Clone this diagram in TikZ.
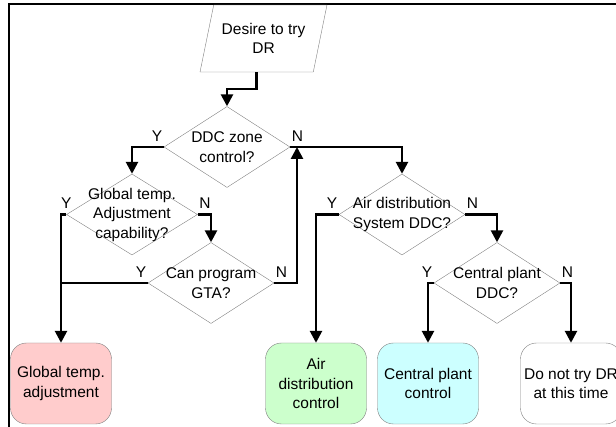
\documentclass[tikz,border=0pt]{standalone}
\usepackage{fontspec}
\setmainfont{Liberation Sans}
\usetikzlibrary{shapes.geometric,arrows.meta}
\definecolor{boxpink}{HTML}{FFCCCC}
\definecolor{boxgreen}{HTML}{CCFFCC}
\definecolor{boxcyan}{HTML}{CCFFFF}
\tikzset{
  startbox/.style={trapezium, trapezium left angle=69.5, trapezium right angle=110.5,
    trapezium stretches=true, draw=gray, minimum width=127pt, minimum height=67pt,
    align=center, inner sep=0pt},
  qbox/.style={diamond, draw=gray, minimum width=126pt, minimum height=81pt, inner sep=0pt},
  qtext/.style={align=center, inner sep=0pt},
  endbox/.style={draw=gray, rounded corners=16pt, minimum width=101pt, minimum height=81pt,
    inner xsep=1pt, align=center},
  wire/.style={line width=2.6pt},
  flow/.style={wire, -{Triangle[width=12pt,length=12pt]}},
  yn/.style={inner xsep=1.5pt, inner ysep=5.5pt}
}
\begin{document}
\begin{tikzpicture}[x=1pt,y=-1pt,font=\fontsize{15.5}{19.5}\selectfont]
	\useasboundingbox (0,0) rectangle (616,427);
	\clip (0,0) rectangle (616,427);
	\draw[line width=2.2pt] (8.6,4.3) rectangle (700,500);
	\node[startbox] (desire) at (263.5,38.5) {Desire to try\\DR};
	\node[qbox,label={[qtext]center:{DDC zone\\control?}}] (ddc) at (227,147) {};
	\node[qbox,minimum width=131pt,label={[qtext]center:{Global temp.\\Adjustment\\capability?}}] (gtacap) at (132,214.5) {};
	\node[qbox,label={[qtext]center:{Can program\\GTA?}}] (canprog) at (211,283) {};
	\node[qbox,label={[qtext]center:{Air distribution\\System DDC?}}] (airddc) at (402,214.5) {};
	\node[qbox,label={[qtext]center:{Central plant\\DDC?}}] (plantddc) at (497,283) {};
	\node[endbox,fill=boxpink] (globaltemp) at (61,383.5) {Global temp.\\adjustment};
	\node[endbox,fill=boxgreen] (airctrl) at (316,383.5) {Air\\distribution\\control};
	\node[endbox,fill=boxcyan] (plantctrl) at (428,383.5) {Central plant\\control};
	\node[endbox,fill=white] (notry) at (571,383.5) {Do not try DR\\at this time};
	\node[yn,anchor=south east] (ddcy) at (ddc.west) {Y};
	\node[yn,anchor=south west] (ddcn) at (ddc.east) {N};
	\node[yn,anchor=south] (gtacapy) at (gtacap.west) {Y};
	\node[yn,anchor=south west] (gtacapn) at (gtacap.east) {N};
	\node[yn,anchor=south east] (canprogy) at (canprog.west) {Y};
	\node[yn,anchor=south west] (canprogn) at (canprog.east) {N};
	\node[yn,anchor=south east] (airddcy) at (airddc.west) {Y};
	\node[yn,anchor=south west] (airddcn) at (airddc.east) {N};
	\node[yn,anchor=south east] (plantddcy) at (plantddc.west) {Y};
	\node[yn,anchor=south west] (plantddcn) at (plantddc.east) {N};
	\coordinate (merge) at (297,147);
	\draw[flow] (desire.bottom side) -- ++(0,17) -| (ddc.north);
	\draw[flow] (ddc.west) -| (gtacap.north);
	\draw[flow] (ddc.east) -| (airddc.north);
	\draw[flow] (gtacap.east) -| (canprog.north);
	\draw[flow] (gtacap.west) -| (globaltemp.north);
	\draw[wire] (canprog.west) -- (canprog.west -| globaltemp.north);
	\draw[flow] (canprog.east) -| (merge);
	\draw[flow] (airddc.west) -| (airctrl.north);
	\draw[flow] (airddc.east) -| (plantddc.north);
	\draw[flow] (plantddc.west) -| (plantctrl.north);
	\draw[flow] (plantddc.east) -| (notry.north);
\end{tikzpicture}
\end{document}
